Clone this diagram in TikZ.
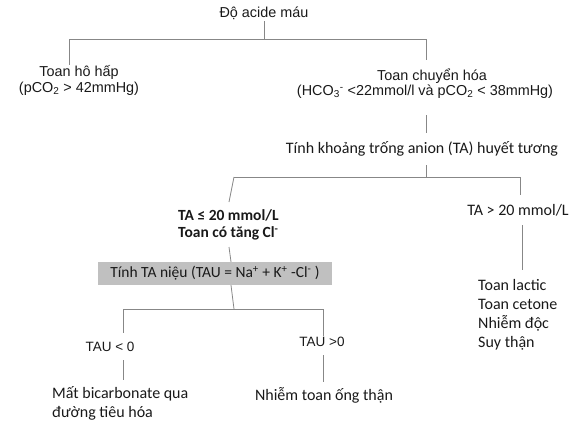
\documentclass[tikz,border=0pt]{standalone}
\usepackage{fontspec}
\setmainfont{Liberation Sans}
\newfontfamily\calf{Carlito}
\definecolor{ln}{RGB}{135,135,135}
\definecolor{boxg}{RGB}{192,192,192}
\definecolor{tx}{RGB}{25,25,25}
\begin{document}
\begin{tikzpicture}[x=1pt,y=-1pt,
  ar/.style={font=\fontsize{14.4}{16}\selectfont,text=tx,inner sep=0pt,align=center},
  cb/.style={font=\calf\fontsize{16}{19}\selectfont,text=tx,inner sep=0pt,align=left},
  cbb/.style={font=\calf\bfseries\fontsize{15.5}{16.5}\selectfont,text=tx,inner sep=0pt,align=left},
  conn/.style={draw=ln,line width=0.8pt}]
\useasboundingbox (0,0) rectangle (576,426);
% texts
\node[ar] (root) at (264,13) {Độ acide máu};
\node[ar] (resp) at (79,80) {Toan hô hấp\\(pCO\textsubscript{2} > 42mmHg)};
\node[ar] (meta) at (432,76) {Toan chuyển hóa};
\node[ar] (metab) at (425,92) {(HCO\textsubscript{3}\textsuperscript{-} <22mmol/l và pCO\textsubscript{2} < 38mmHg)};
\node[cb] (gap) at (422,149) {Tính khoảng trống anion (TA) huyết tương};
\node[cbb,anchor=west] (low) at (178,225) {TA ≤ 20 mmol/L\\Toan có tăng Cl\textsuperscript{-}};
\node[cb] (high) at (518,210) {TA > 20 mmol/L};
\node[cb,font=\calf\fontsize{15.5}{19}\selectfont,fill=boxg,minimum width=234pt,minimum height=23pt] (tau) at (215,273.5) {Tính TA niệu (TAU = Na\textsuperscript{+} + K\textsuperscript{+} -Cl\textsuperscript{-} )};
\node[ar,font=\fontsize{13.5}{16}\selectfont] (tneg) at (110,347) {TAU < 0};
\node[ar,font=\fontsize{13.5}{16}\selectfont] (tpos) at (322,342) {TAU >0};
\node[cb,anchor=west] (gi) at (52,403.5) {Mất bicarbonate qua\\đường tiêu hóa};
\node[cb] (rta) at (324,395) {Nhiễm toan ống thận};
\node[cb,anchor=west] (causes) at (478,314.5) {Toan lactic\\Toan cetone\\Nhiễm độc\\Suy thận};
% junction coordinates
\coordinate (j1) at (264,39);
\coordinate (j1l) at (69,39);
\coordinate (j1r) at (426,39);
\coordinate (j2) at (426,177);
\coordinate (j2l) at (234,177);
\coordinate (j2r) at (520,177);
\coordinate (j3) at (234,309);
\coordinate (j3l) at (123,309);
\coordinate (j3r) at (323,309);
% connectors
\draw[conn] (root.south |- 0,21) -- (j1);
\draw[conn] (j1l) -- (j1r);
\draw[conn] (j1l) -- (resp.north -| j1l);
\draw[conn] (j1r) -- (426,60);
\draw[conn] (426,115) -- (426,133);
\draw[conn] (426,165) -- (j2);
\draw[conn] (j2l) -- (j2r);
\draw[conn] (j2l) -- (229,202);
\draw[conn] (j2r) -- (520,195);
\draw[conn] (522,225) -- (522,270);
\draw[conn] (229,247) -- (tau.north -| 231,0);
\draw[conn] (tau.south -| 231,0) -- (j3);
\draw[conn] (j3l) -- (j3r);
\draw[conn] (j3l) -- (123,333);
\draw[conn] (j3r) -- (323,336);
\draw[conn] (123,360) -- (123,380);
\draw[conn] (323,355) -- (323,382);
\end{tikzpicture}
\end{document}
